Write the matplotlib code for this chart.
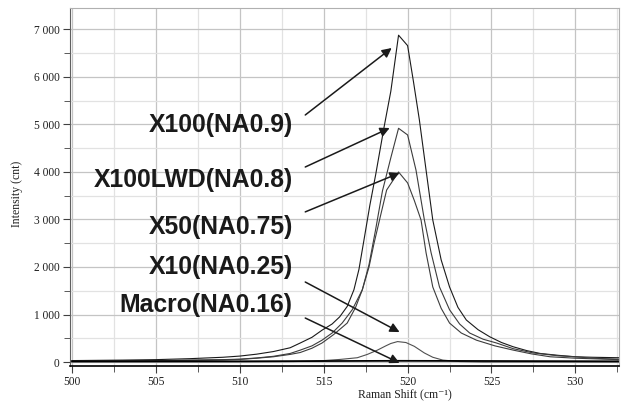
import matplotlib
matplotlib.use("Agg")
import matplotlib.pyplot as plt
from matplotlib.ticker import MultipleLocator, FuncFormatter

# spectra (Raman shift, intensity in counts)
x100_x = [500, 503, 505, 507, 509, 510, 511, 512, 513, 513.6, 514.3, 514.9, 515.5, 515.95, 516.4,
          516.8, 517.1, 517.4, 517.75, 518.1, 518.6, 519.0, 519.46,
          520.0, 520.35, 520.7, 521.1, 521.5, 522.0, 522.5, 523.0, 523.5, 524.2, 524.9,
          525.6, 526.3, 527.1, 527.9, 529, 530, 531, 532.6]
x100_y = [30, 40, 50, 70, 100, 125, 165, 220, 300, 400, 520, 670, 800, 950, 1170,
          1520, 1950, 2570, 3300, 3950, 4950, 5700, 6880,
          6660, 5900, 5100, 4040, 2990, 2150, 1580, 1150, 884, 680, 530,
          410, 320, 240, 180, 140, 110, 100, 90]

lwd_x = [500, 503, 505, 507, 509, 510, 511, 512, 513, 513.6, 514.3, 514.9, 515.5, 516.1, 516.7,
         517.3, 517.7, 518.1, 518.5, 519.0, 519.46,
         520.0, 520.5, 521.0, 521.4, 521.9, 522.5, 523.1, 523.7, 524.5, 525.3, 526.3, 527.5,
         529, 530, 531, 532.6]
lwd_y = [20, 25, 30, 40, 50, 60, 85, 120, 180, 250, 340, 460, 610, 820, 1100,
         1520, 2050, 2800, 3600, 4300, 4920,
         4780, 4040, 2990, 2300, 1580, 1100, 800, 610, 480, 400, 280, 190,
         130, 110, 80, 60]

x50_x = [500, 503, 505, 507, 509, 510, 511, 512, 513, 513.6, 514.3, 514.9, 515.6, 516.4, 516.9,
         517.3, 517.7, 518.0, 518.4, 518.75, 519.46,
         520.0, 520.4, 520.8, 521.1, 521.5, 522.0, 522.5, 523.2, 524.1, 525.2, 526.3, 527.4,
         528.5, 530, 532.6]
x50_y = [15, 20, 25, 35, 45, 55, 80, 110, 160, 200, 290, 400, 580, 820, 1150,
         1520, 2000, 2500, 3100, 3620, 4000,
         3770, 3400, 2990, 2300, 1580, 1130, 820, 610, 460, 340, 250, 170,
         110, 80, 50]

x10_x = [500, 510, 513.2, 514.2, 515.0, 516.0, 517.0, 517.6, 518.2, 518.7, 519.0, 519.4, 519.9,
         520.4, 521.0, 521.5, 522.1, 523.1, 524.5, 532.6]
x10_y = [0, 5, 10, 18, 30, 55, 90, 160, 250, 340, 390, 430, 410,
         330, 190, 100, 40, 10, 0, 0]

macro_x = [500, 510, 519.5, 532.6]
macro_y = [15, 15, 25, 15]

labels = ["X100(NA0.9)", "X100LWD(NA0.8)", "X50(NA0.75)", "X10(NA0.25)", "Macro(NA0.16)"]
label_y = [4990, 3830, 2840, 2000, 1200]
arrow_from = [(513.9, 5200), (513.9, 4105), (513.9, 3160), (513.9, 1684), (513.9, 926)]
arrow_to = [(519.05, 6610), (518.93, 4926), (519.52, 3980), (519.52, 630), (519.52, -20)]

fig = plt.figure(figsize=(6.23, 4.05), dpi=100)
ax = fig.add_axes([0.1124, 0.0963, 0.8812, 0.8837])

ax.plot(x100_x, x100_y, color="#1a1a1a", lw=0.8)
ax.plot(lwd_x, lwd_y, color="#3c3c3c", lw=0.8)
ax.plot(x50_x, x50_y, color="#3c3c3c", lw=0.8)
ax.plot(x10_x, x10_y, color="#505050", lw=0.8)
ax.plot(macro_x, macro_y, color="black", lw=1.3)

ax.set_xlim(499.88, 532.6)
ax.set_ylim(-84, 7450)

ax.xaxis.set_major_locator(MultipleLocator(5))
ax.xaxis.set_minor_locator(MultipleLocator(2.5))
ax.yaxis.set_major_locator(MultipleLocator(1000))
ax.yaxis.set_minor_locator(MultipleLocator(500))
ax.yaxis.set_major_formatter(FuncFormatter(lambda v, p: f"{int(v):,}".replace(",", " ")))

ax.grid(which="major", color="#c4c4c4", lw=0.9)
ax.grid(which="minor", color="#e2e2e2", lw=0.9)
ax.set_axisbelow(True)

serif = ["Liberation Serif", "DejaVu Serif"]
ax.tick_params(which="both", direction="out", color="#404040", labelsize=8.3, labelcolor="#202020")
ax.tick_params(which="major", length=5, pad=2.5)
ax.tick_params(which="minor", length=4)
for t in ax.get_xticklabels() + ax.get_yticklabels():
    t.set_family(serif)

for s in ["top", "right"]:
    ax.spines[s].set_color("#b0b0b0")
ax.spines["left"].set_color("#606060")
ax.spines["bottom"].set_color("black")
ax.spines["bottom"].set_linewidth(1.2)

ax.set_ylabel("Intensity (cnt)", family=serif, fontsize=8.5, color="#202020")
ax.set_xlabel("Raman Shift (cm\u207b\u00b9)", family=serif, fontsize=8.5, color="#202020")
ax.xaxis.set_label_coords(0.61, -0.062)
ax.yaxis.set_label_coords(-0.085, 0.48)

for lab, ly in zip(labels, label_y):
    ax.text(513.15, ly, lab, ha="right", va="center", fontsize=17.8,
            fontweight="bold", family="Liberation Sans", color="#1a1a1a")

for (x0, y0), (x1, y1) in zip(arrow_from, arrow_to):
    ax.annotate("", xy=(x1, y1), xytext=(x0, y0),
                arrowprops=dict(arrowstyle="-|>", color="#1a1a1a", lw=1.1,
                                mutation_scale=14, shrinkA=0, shrinkB=0))

fig.savefig("out.png", dpi=100)
